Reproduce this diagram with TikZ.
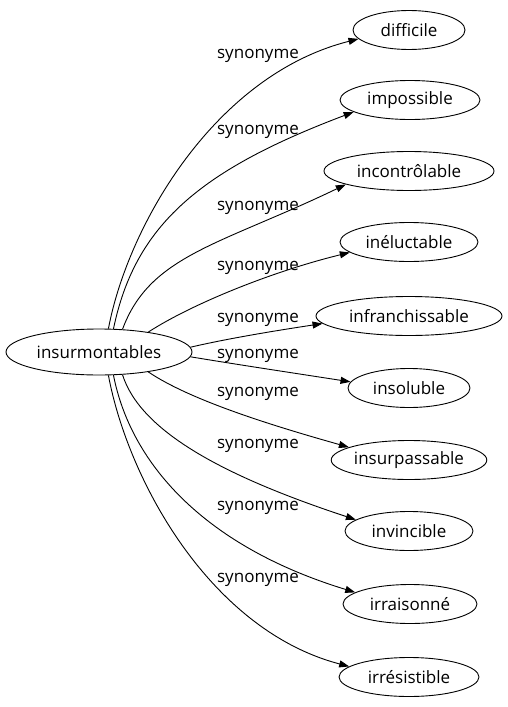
\documentclass[tikz,border=0pt]{standalone}
\usepackage{fontspec}
\setmainfont{Open Sans}
\usetikzlibrary{shapes.geometric,arrows.meta}
\begin{document}
\begin{tikzpicture}[x=1pt,y=-1pt,
  word/.style={ellipse,draw,line width=0.9pt,inner sep=0pt,minimum height=39pt,font=\fontsize{17}{20}\selectfont},
  lbl/.style={inner sep=0pt,font=\fontsize{17}{20}\selectfont},
  syn/.style={line width=0.9pt,-{Triangle[length=10pt,width=7pt]}}]
\useasboundingbox (0,0) rectangle (507,707);
\node[word,minimum width=186pt,minimum height=46pt] (c) at (99,352) {insurmontables};
\node[word,minimum width=112pt] (d1) at (409,30) {difficile};
\node[word,minimum width=140pt] (d2) at (410,100) {impossible};
\node[word,minimum width=170pt] (d3) at (409,171) {incontrôlable};
\node[word,minimum width=138pt] (d4) at (409,242) {inéluctable};
\node[word,minimum width=186pt] (d5) at (409,316) {infranchissable};
\node[word,minimum width=122pt] (d6) at (409,388) {insoluble};
\node[word,minimum width=152pt] (d7) at (409,460) {insurpassable};
\node[word,minimum width=128pt] (d8) at (409,531) {invincible};
\node[word,minimum width=134pt] (d9) at (410,604) {irraisonné};
\node[word,minimum width=140pt] (d10) at (409,677) {irrésistible};
\node[lbl] (l1) at (258,56) {synonyme};
\node[lbl] (l2) at (258,132) {synonyme};
\node[lbl] (l3) at (258,208) {synonyme};
\node[lbl] (l4) at (258,268) {synonyme};
\node[lbl] (l5) at (258,320) {synonyme};
\node[lbl] (l6) at (258,356) {synonyme};
\node[lbl] (l7) at (258,394) {synonyme};
\node[lbl] (l8) at (258,446) {synonyme};
\node[lbl] (l9) at (258,508) {synonyme};
\node[lbl] (l10) at (258,580) {synonyme};
\draw[syn] (c.68.6) .. controls (128,225) and (215,75) .. (d1.190);
\draw[syn] (c.58.3) .. controls (135,225) and (200,170) .. (d2.192);
\draw[syn] (c.44.1) .. controls (150,255) and (220,245) .. (d3.192);
\draw[syn] (c.22.3) .. controls (190,305) and (270,272) .. (d4.190);
\draw[syn] (c.3) .. controls (230,338) and (280,330) .. (d5.185);
\draw[syn] (c.-3) .. controls (240,365) and (300,374) .. (d6.174);
\draw[syn] (c.-22.3) .. controls (190,400) and (270,425) .. (d7.168);
\draw[syn] (c.-44.1) .. controls (140,430) and (220,475) .. (d8.168);
\draw[syn] (c.-58.3) .. controls (130,460) and (200,545) .. (d9.168);
\draw[syn] (c.-68.6) .. controls (128,480) and (210,630) .. (d10.170);
\end{tikzpicture}
\end{document}
